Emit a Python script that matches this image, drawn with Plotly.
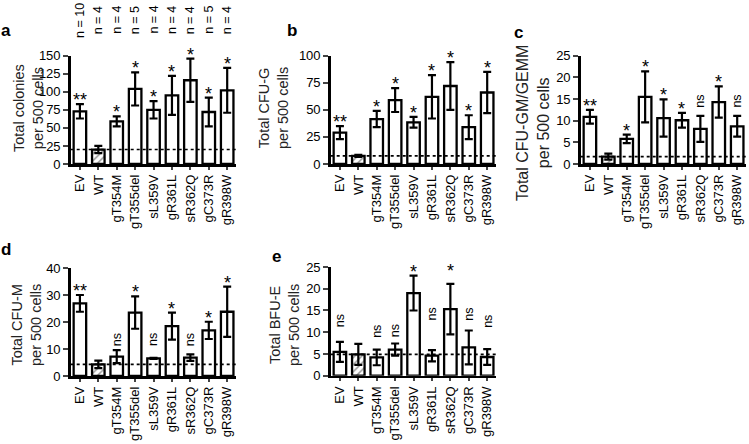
import plotly.graph_objects as go

W, H = 749, 444

# ---------------- data ----------------
categories = ["EV", "WT", "gT354M", "gT355del", "sL359V", "gR361L", "sR362Q", "gC373R", "gR398W"]
n_labels = ["n = 10", "n = 4", "n = 4", "n = 5", "n = 4", "n = 4", "n = 4", "n = 5", "n = 4"]

colonies_mean = [73, 20, 59, 104, 75, 95, 116, 72, 102]
colonies_err = [10, 5, 7, 23, 12, 27, 30, 20, 31]
colonies_sig = ["**", "", "*", "*", "*", "*", "*", "*", "*"]

cfug_mean = [29, 7.5, 41.5, 59, 38.5, 62, 72, 34, 66]
cfug_err = [6, 1, 7.5, 11, 5, 20, 22, 11, 19]
cfug_sig = ["**", "", "*", "*", "*", "*", "*", "*", "*"]

gm_mean = [10.9, 1.7, 5.8, 15.5, 10.6, 10.1, 8.1, 14.3, 8.7]
gm_err = [1.6, 0.7, 1.0, 5.9, 4.3, 1.7, 3.0, 3.6, 2.4]
gm_sig = ["**", "", "*", "*", "*", "*", "ns", "*", "ns"]

cfum_mean = [26.9, 4.3, 7.2, 23.5, 6.5, 18.5, 6.8, 16.9, 23.8]
cfum_err = [3.1, 1.4, 2.4, 6.0, 0.2, 5.0, 1.2, 3.2, 9.3]
cfum_sig = ["**", "", "ns", "*", "ns", "*", "ns", "*", "*"]

bfue_mean = [5.5, 4.9, 4.2, 6.0, 19.0, 4.6, 15.3, 6.5, 4.3]
bfue_err = [2.3, 2.4, 1.8, 1.4, 4.0, 1.3, 5.8, 3.9, 1.8]
bfue_sig = ["ns", "", "ns", "ns", "*", "ns", "*", "ns", "ns"]

# ---------------- layout (pixel geometry / style) ----------------
panels = [
    dict(letter="a", mean=colonies_mean, err=colonies_err, sig=colonies_sig, ymax=150, dtick=25,
         title="Total colonies<br>per 500 cells", px=(70.7, 236.4), py=(55.7, 164),
         letter_pos=(6, 31), title_pos=(29, 108), title_size=14.5, nlab=True,
         lift=[0] * 9),
    dict(letter="b", mean=cfug_mean, err=cfug_err, sig=cfug_sig, ymax=100, dtick=25,
         title="Total CFU-G<br>per 500 cells", px=(330.7, 496.4), py=(55.7, 164),
         letter_pos=(292, 31), title_pos=(274, 108), title_size=14.5, nlab=False,
         lift=[0] * 9),
    dict(letter="c", mean=gm_mean, err=gm_err, sig=gm_sig, ymax=25, dtick=5,
         title="Total CFU-GM/GEMM<br>per 500 cells", px=(580.7, 746.4), py=(55.7, 164),
         letter_pos=(518, 32), title_pos=(533, 123), title_size=16, nlab=False,
         lift=[0, 0, 0, 0, 0, 0, 3, 0, 3]),
    dict(letter="d", mean=cfum_mean, err=cfum_err, sig=cfum_sig, ymax=40, dtick=10,
         title="Total CFU-M<br>per 500 cells", px=(70.7, 236.4), py=(268, 376),
         letter_pos=(6, 249), title_pos=(26, 325), title_size=14.5, nlab=False,
         lift=[0, 0, -1, 0, 7, 0, 3, 0, 0]),
    dict(letter="e", mean=bfue_mean, err=bfue_err, sig=bfue_sig, ymax=25, dtick=5,
         title="Total BFU-E<br>per 500 cells", px=(330.7, 496.4), py=(267, 375.7),
         letter_pos=(276, 256), title_pos=(284, 325), title_size=14.5, nlab=False,
         lift=[10, 0, 7, 1, 0, 25, 9, 5, 16]),
]

FONT = "Liberation Sans, Arial, sans-serif"
fig = go.Figure()
layout = dict(width=W, height=H, margin=dict(l=0, r=0, t=0, b=0, autoexpand=False),
              paper_bgcolor="white", plot_bgcolor="white", showlegend=False,
              bargap=0.32, font=dict(family=FONT, color="black"))
annotations = []
shapes = []

for i, p in enumerate(panels):
    k = "" if i == 0 else str(i + 1)
    xa, ya = "x" + k, "y" + k
    patterns = ["/" if c == "WT" else "" for c in categories]
    fig.add_trace(go.Bar(
        x=categories, y=p["mean"], xaxis=xa, yaxis=ya,
        marker=dict(color="white", line=dict(color="black", width=2.3),
                    pattern=dict(shape=patterns, fgcolor="#333", size=5, solidity=0.3)),
        error_y=dict(type="data", array=p["err"], color="black", thickness=2.2, width=4),
        hoverinfo="skip",
    ))
    layout["xaxis" + k] = dict(
        domain=[p["px"][0] / W, p["px"][1] / W], anchor=ya, type="category",
        range=[-0.5, len(categories) - 0.5], tickangle=-90, ticks="outside", ticklen=3,
        tickwidth=2, showline=True, linewidth=2.5, linecolor="black", showgrid=False,
        automargin=False,
        tickfont=dict(size=13, family=FONT, color="black"), fixedrange=True)
    layout["yaxis" + k] = dict(
        domain=[1 - p["py"][1] / H, 1 - p["py"][0] / H], anchor=xa,
        range=[0, p["ymax"]], tickmode="linear", tick0=0, dtick=p["dtick"],
        ticks="outside", ticklen=5, tickwidth=2, showline=True, linewidth=2.5,
        linecolor="black", showgrid=False, zeroline=False, automargin=False,
        tickfont=dict(size=13, family=FONT, color="black"), fixedrange=True)
    # dotted reference line at WT mean
    shapes.append(dict(type="line", xref=xa + " domain", yref=ya, x0=0, x1=1,
                       y0=p["mean"][1], y1=p["mean"][1],
                       line=dict(color="black", width=1.6, dash="dot")))
    # significance labels
    for c, m, e, s, lf in zip(categories, p["mean"], p["err"], p["sig"], p["lift"]):
        if not s:
            continue
        if s == "ns":
            annotations.append(dict(x=c, y=m + e, xref=xa, yref=ya, text="ns", showarrow=False,
                                    textangle=-90, xanchor="center", yanchor="bottom",
                                    yshift=3 + lf, font=dict(size=12.5, family=FONT)))
        else:
            annotations.append(dict(x=c, y=m + e, xref=xa, yref=ya, text=s, showarrow=False,
                                    xanchor="center", yanchor="bottom", yshift=-8 + lf,
                                    font=dict(size=18, family=FONT)))
    # n labels
    if p["nlab"]:
        for c, t in zip(categories, n_labels):
            annotations.append(dict(x=c, y=1 - 20 / H, xref=xa, yref="paper", text=t,
                                    showarrow=False, textangle=-90,
                                    xanchor="center", yanchor="middle",
                                    font=dict(size=12.5, family=FONT)))
    # panel letter
    annotations.append(dict(x=p["letter_pos"][0] / W, y=1 - p["letter_pos"][1] / H,
                            xref="paper", yref="paper", text="<b>" + p["letter"] + "</b>",
                            xanchor="center", yanchor="middle",
                            showarrow=False, font=dict(size=17, family=FONT)))
    # y title
    annotations.append(dict(x=p["title_pos"][0] / W, y=1 - p["title_pos"][1] / H,
                            xref="paper", yref="paper", text=p["title"], showarrow=False,
                            xanchor="center", yanchor="middle",
                            textangle=-90,
                            font=dict(size=p["title_size"], family=FONT, color="#222")))

layout["annotations"] = annotations
layout["shapes"] = shapes
fig.update_layout(**layout)
fig.write_html("out.html", config={"displayModeBar": False, "staticPlot": True},
               post_script="document.body.style.margin='0';")
